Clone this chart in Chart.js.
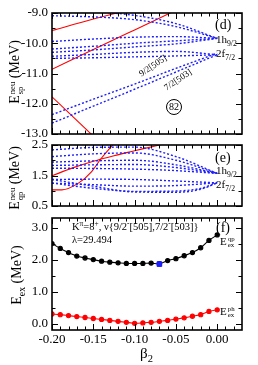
<!DOCTYPE html>
<html>
<head>
<meta charset="utf-8">
<script src="https://cdn.jsdelivr.net/npm/chart.js@4.4.0/dist/chart.umd.min.js"></script>
<style>
  html, body { margin:0; padding:0; background:#fff; }
  #wrap { position:relative; width:258px; height:365px; overflow:hidden; font-family:"Liberation Serif","Times New Roman",serif; color:#000; }
  canvas { position:absolute; left:0; top:0; }
  .lbl { position:absolute; white-space:nowrap; line-height:1; }
  .rot { transform: translate(-50%,-50%) rotate(-90deg); }
  .ss { display:inline-block; vertical-align:middle; line-height:0.95; font-size:0.62em; text-align:left; margin-left:1px; }
  .ss span { display:block; }
  sub, sup { font-size:0.7em; line-height:0; }
  .circ { position:absolute; width:14px; height:14px; border:1px solid #000; border-radius:50%; font-size:10px; line-height:14px; text-align:center; }
</style>
</head>
<body>
<div id="wrap">
  <canvas id="chartD" width="258" height="365"></canvas>
  <canvas id="chartE" width="258" height="365"></canvas>
  <canvas id="chartF" width="258" height="365"></canvas>

  <div class="lbl rot" style="left:16px; top:72px; font-size:14px;">E<span class="ss"><span>neu</span><span>sp</span></span> (MeV)</div>
  <div class="lbl rot" style="left:16px; top:178px; font-size:14px;">E<span class="ss"><span>neu</span><span>qp</span></span> (MeV)</div>
  <div class="lbl rot" style="left:17px; top:275px; font-size:14px;">E<sub>ex</sub> (MeV)</div>
  <div class="lbl" style="left:140px; top:346px; font-size:15px;">β<sub>2</sub></div>

  <div class="lbl" style="left:215px; top:18px; font-size:14px;">(d)</div>
  <div class="lbl" style="left:216px; top:34px; font-size:11px;">1h<sub>9/2</sub></div>
  <div class="lbl" style="left:216px; top:48px; font-size:11px;">2f<sub>7/2</sub></div>
  <div class="lbl" style="left:153px; top:66px; font-size:9px; transform:translate(-50%,-50%) rotate(-34deg);">9/2[505]</div>
  <div class="lbl" style="left:178px; top:80px; font-size:9px; transform:translate(-50%,-50%) rotate(-34deg);">7/2[503]</div>
  <div class="circ" style="left:166px; top:99px;">82</div>

  <div class="lbl" style="left:215px; top:151px; font-size:14px;">(e)</div>
  <div class="lbl" style="left:216px; top:165px; font-size:11px;">1h<sub>9/2</sub></div>
  <div class="lbl" style="left:216px; top:179px; font-size:11px;">2f<sub>7/2</sub></div>

  <div class="lbl" style="left:216px; top:221px; font-size:14px;">(f)</div>
  <div class="lbl" style="left:72px; top:222px; font-size:10.5px;">K<sup>π</sup>=8<sup>+</sup>, ν{9/2<sup>-</sup>[505],7/2<sup>-</sup>[503]}</div>
  <div class="lbl" style="left:72px; top:235px; font-size:10.5px;">λ=29.494</div>
  <div class="lbl" style="left:220px; top:236px; font-size:11px;">E<span class="ss"><span>qp</span><span>ex</span></span></div>
  <div class="lbl" style="left:220px; top:306px; font-size:11px;">E<span class="ss"><span>ph</span><span>ex</span></span></div>
</div>

<script>
// ---- panel (d): neutron single-particle levels ----
var betaGrid = [-0.20, -0.15, -0.10, -0.05, 0.00];

// dotted levels (1h9/2 and 2f7/2 families), values at betaGrid
var spDotted = [
  [-8.85, -8.95, -9.08, -9.35, -9.84],
  [-9.09, -9.13, -9.22, -9.45, -9.84],
  [-9.94, -9.86, -9.80, -9.78, -9.84],
  [-10.19, -10.10, -10.00, -9.92, -9.84],
  [-10.30, -10.22, -10.12, -10.02, -9.84],
  [-10.43, -10.37, -10.30, -10.27, -10.38],
  [-10.50, -10.48, -10.45, -10.42, -10.38],
  [-12.36, -11.85, -11.35, -10.83, -10.33],
  [-12.64, -12.08, -11.52, -10.95, -10.38]
];

// intruder levels (solid red)
var spRed1Beta = [-0.20, -0.15, -0.10];
var spRed1 = [-9.58, -9.20, -8.85];
var spRed2Beta = [-0.20, -0.15, -0.10, -0.05];
var spRed2 = [-10.86, -10.21, -9.56, -8.91];
var spRed3Beta = [-0.20, -0.14];
var spRed3 = [-11.77, -13.33];

// ---- panel (e): quasiparticle energies ----
var qpDotted = [
  [2.34, 2.42, 2.43, 2.12, 1.57],
  [2.12, 2.21, 2.24, 2.00, 1.57],
  [1.94, 1.98, 2.00, 1.85, 1.57],
  [1.83, 1.85, 1.86, 1.76, 1.57],
  [1.74, 1.73, 1.71, 1.66, 1.57],
  [1.37, 1.38, 1.37, 1.32, 1.26],
  [1.25, 1.20, 1.15, 1.17, 1.26]
];
var qpLowBeta = [-0.20, -0.15, -0.10, -0.05, -0.02, 0.00];
var qpLow1 = [1.37, 1.15, 0.96, 0.95, 1.05, 1.26];
var qpLow2 = [1.25, 1.08, 0.98, 0.99, 1.08, 1.26];

var qpRed1Beta = [-0.200, -0.175, -0.150, -0.125, -0.100, -0.075, -0.050];
var qpRed1 = [1.49, 1.75, 1.97, 2.15, 2.31, 2.47, 2.62];
var qpRed2Beta = [-0.200, -0.188, -0.168, -0.152, -0.141, -0.125, -0.115];
var qpRed2 = [1.03, 1.03, 1.25, 1.63, 2.04, 2.55, 2.85];

// ---- panel (f): excitation energies ----
var betaF = [-0.20, -0.19, -0.18, -0.17, -0.16, -0.15, -0.14, -0.13, -0.12, -0.11, -0.10,
             -0.09, -0.08, -0.07, -0.06, -0.05, -0.04, -0.03, -0.02, -0.01, 0.00];
var exQp = [2.50, 2.35, 2.22, 2.11, 2.05, 2.00, 1.95, 1.92, 1.90, 1.88, 1.88,
            1.88, 1.89, 1.87, 1.97, 2.03, 2.12, 2.22, 2.37, 2.60, 2.77];
var exPh = [0.30, 0.28, 0.25, 0.22, 0.19, 0.16, 0.13, 0.10, 0.07, 0.04, 0.01,
            0.02, 0.04, 0.07, 0.10, 0.14, 0.18, 0.23, 0.28, 0.38, 0.43];
var minBeta = [-0.07];
var minEx = [1.86];

var xTickValues = [-0.20, -0.15, -0.10, -0.05, 0.00];
var xTickLabels = ['-0.20', '-0.15', '-0.10', '-0.05', '0.00'];
var yTicksF = [0, 1, 2, 3];

Chart.defaults.color = '#000';
Chart.defaults.font.family = '"Liberation Serif", "Times New Roman", serif';
Chart.defaults.animation = false;

var BLUE = 'rgb(30,30,255)';
var RED = 'rgb(255,0,0)';

function pts(betas, vals) {
  return betas.map(function(b, i) { return { x: b, y: vals[i] }; });
}

function dotted(betas, vals) {
  return {
    data: pts(betas, vals),
    borderColor: BLUE,
    borderWidth: 1.4,
    borderDash: [2, 2],
    pointRadius: 0,
    cubicInterpolationMode: 'monotone',
    fill: false
  };
}

function solid(betas, vals) {
  return {
    data: pts(betas, vals),
    borderColor: RED,
    borderWidth: 1.1,
    pointRadius: 0,
    cubicInterpolationMode: 'monotone',
    fill: false
  };
}

// frame with inward ticks on all four sides
var frameTicks = {
  id: 'frameTicks',
  afterDraw: function(chart, args, o) {
    var a = chart.chartArea, ctx = chart.ctx;
    var sx = chart.scales.x, sy = chart.scales.y;
    var i, px, len;
    ctx.save();
    ctx.strokeStyle = '#000';
    ctx.lineWidth = 1;
    ctx.beginPath();
    for (i = 0; i <= 22; i++) {
      px = Math.round(sx.getPixelForValue(-0.2 + i * 0.01)) + 0.5;
      len = (i % 5 === 0) ? 6 : 3.5;
      ctx.moveTo(px, a.bottom); ctx.lineTo(px, a.bottom - len);
      ctx.moveTo(px, a.top); ctx.lineTo(px, a.top + len);
    }
    for (i = 0; i <= o.yCount; i++) {
      px = Math.round(sy.getPixelForValue(o.yFrom + i * 0.5)) + 0.5;
      len = (i % 2 === 0) ? 6 : 3.5;
      ctx.moveTo(a.left, px); ctx.lineTo(a.left + len, px);
      ctx.moveTo(a.right, px); ctx.lineTo(a.right - len, px);
    }
    ctx.stroke();
    ctx.lineWidth = 1.6;
    ctx.strokeRect(a.left, a.top, a.width, a.height);
    ctx.restore();
  }
};

// fixed-width y axis; no extra padding for half labels so the panels line up
function yAxis(min, max, step) {
  return {
    type: 'linear', min: min, max: max,
    afterFit: function(s) { s.width = 52; s.paddingTop = 0; s.paddingBottom = 0; },
    grid: { display: false, drawTicks: false },
    border: { display: false },
    ticks: {
      stepSize: step, padding: 4, autoSkip: false,
      font: { size: 13 },
      callback: function(v) { return v.toFixed(1); }
    }
  };
}

function hiddenX() {
  return { type: 'linear', min: -0.2, max: 0.03, display: false };
}

// (d)
new Chart(document.getElementById('chartD'), {
  type: 'line',
  data: {
    datasets: spDotted.map(function(r) { return dotted(betaGrid, r); }).concat([
      solid(spRed1Beta, spRed1),
      solid(spRed2Beta, spRed2),
      solid(spRed3Beta, spRed3)
    ])
  },
  options: {
    responsive: false,
    layout: { padding: { left: 0, right: 16, top: 13, bottom: 231 } },
    plugins: { legend: { display: false }, tooltip: { enabled: false }, frameTicks: { yFrom: -13, yCount: 8 } },
    scales: { x: hiddenX(), y: yAxis(-13, -9, 1) }
  },
  plugins: [frameTicks]
});

// (e)
new Chart(document.getElementById('chartE'), {
  type: 'line',
  data: {
    datasets: qpDotted.map(function(r) { return dotted(betaGrid, r); }).concat([
      dotted(qpLowBeta, qpLow1),
      dotted(qpLowBeta, qpLow2),
      solid(qpRed1Beta, qpRed1),
      solid(qpRed2Beta, qpRed2)
    ])
  },
  options: {
    responsive: false,
    layout: { padding: { left: 0, right: 16, top: 145, bottom: 159 } },
    plugins: { legend: { display: false }, tooltip: { enabled: false }, frameTicks: { yFrom: 0.5, yCount: 4 } },
    scales: { x: hiddenX(), y: yAxis(0.5, 2.5, 1) }
  },
  plugins: [frameTicks]
});

// (f)
var yF = yAxis(-0.2, 3.3, 1);
yF.afterBuildTicks = function(s) {
  s.ticks = yTicksF.map(function(v) { return { value: v }; });
};

new Chart(document.getElementById('chartF'), {
  type: 'line',
  data: {
    datasets: [
      {
        data: pts(minBeta, minEx),
        borderColor: BLUE, backgroundColor: BLUE,
        pointStyle: 'rect', pointRadius: 3.3, showLine: false
      },
      {
        data: pts(betaF, exQp),
        borderColor: '#000', backgroundColor: '#000',
        borderWidth: 1.1, pointRadius: 2.1, tension: 0.3
      },
      {
        data: pts(betaF, exPh),
        borderColor: RED, backgroundColor: RED,
        borderWidth: 1.1, pointRadius: 2.1, tension: 0.3
      }
    ]
  },
  options: {
    responsive: false,
    layout: { padding: { left: 0, right: 16, top: 218, bottom: 0 } },
    plugins: { legend: { display: false }, tooltip: { enabled: false }, frameTicks: { yFrom: 0, yCount: 6 } },
    scales: {
      x: {
        type: 'linear', min: -0.2, max: 0.03,
        afterFit: function(s) { s.height = 35; s.paddingLeft = 0; s.paddingRight = 0; },
        afterBuildTicks: function(s) {
          s.ticks = xTickValues.map(function(v) { return { value: v }; });
        },
        grid: { display: false, drawTicks: false },
        border: { display: false },
        ticks: {
          padding: 2, maxRotation: 0, autoSkip: false,
          font: { size: 13 },
          callback: function(v, i) { return xTickLabels[i]; }
        }
      },
      y: yF
    }
  },
  plugins: [frameTicks]
});
</script>
</body>
</html>
